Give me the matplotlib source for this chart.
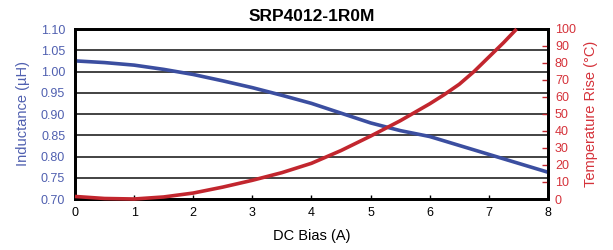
import matplotlib
matplotlib.use("Agg")
import matplotlib.pyplot as plt
import numpy as np

# Data
dc_bias = [0, 0.5, 1, 1.5, 2, 2.5, 3, 3.5, 4, 4.5, 5, 5.5, 6, 6.5, 7, 7.5, 8]
inductance = [1.025, 1.021, 1.015, 1.005, 0.993, 0.978, 0.962, 0.944, 0.925,
              0.902, 0.879, 0.861, 0.847, 0.826, 0.805, 0.784, 0.763]
temp_bias = [0, 0.5, 1, 1.5, 2, 2.5, 3, 3.5, 4, 4.5, 5, 5.5, 6, 6.25, 6.5, 6.75, 7, 7.25, 7.47]
temp_rise = [1.5, 0.3, 0.0, 1.2, 3.5, 7, 11, 15.5, 21, 28.5, 37, 46, 56, 61.5, 67.5, 75, 83.5, 92, 100]

x_ticks = [0, 1, 2, 3, 4, 5, 6, 7, 8]
l_ticks = [0.70, 0.75, 0.80, 0.85, 0.90, 0.95, 1.00, 1.05, 1.10]
t_ticks = [0, 10, 20, 30, 40, 50, 60, 70, 80, 90, 100]

BLUE = "#3b4ea0"
BLUE_TXT = "#5060b0"
RED = "#c2262e"
RED_TXT = "#d5323a"

plt.rcParams['font.family'] = ['Liberation Sans Narrow', 'Liberation Sans', 'DejaVu Sans']

fig = plt.figure(figsize=(6.13, 2.5), dpi=100)
ax = fig.add_axes([0.1223, 0.204, 0.7716, 0.680])
ax2 = ax.twinx()

# horizontal grid at inductance ticks
for v in l_ticks[1:-1]:
    ax.axhline(v, color="#222222", lw=1.2, zorder=1)

ax.plot(dc_bias, inductance, color=BLUE, lw=2.6, solid_capstyle="butt", zorder=3)
ax2.plot(temp_bias, temp_rise, color=RED, lw=2.6, solid_capstyle="butt", zorder=3, clip_on=False)

ax.set_xlim(0, 8)
ax.set_ylim(0.70, 1.10)
ax2.set_ylim(0, 100)

ax.set_xticks(x_ticks)
ax.set_yticks(l_ticks)
ax.set_yticklabels([f"{v:.2f}" for v in l_ticks])
ax2.set_yticks(t_ticks)

ax.tick_params(axis="x", direction="in", length=3, width=1, colors="black", labelsize=9, pad=6)
ax.tick_params(axis="y", length=0, labelcolor=BLUE_TXT, labelsize=9, pad=7)
ax2.tick_params(axis="y", direction="in", length=4, width=1, color=RED, labelcolor=RED_TXT,
                labelsize=9, pad=5)

for a in (ax, ax2):
    for s in a.spines.values():
        s.set_linewidth(2)
        s.set_color("black")

ax.set_xlabel("DC Bias (A)", fontsize=10.5, labelpad=7)
ax.set_ylabel("Inductance (µH)", fontsize=10.5, color=BLUE_TXT, labelpad=8)
ax2.set_ylabel("Temperature Rise (°C)", fontsize=10.5, color=RED_TXT, labelpad=6)
ax.set_title("SRP4012-1R0M", fontsize=12.5, fontweight="bold", pad=6)

fig.savefig("out.png", dpi=100)
